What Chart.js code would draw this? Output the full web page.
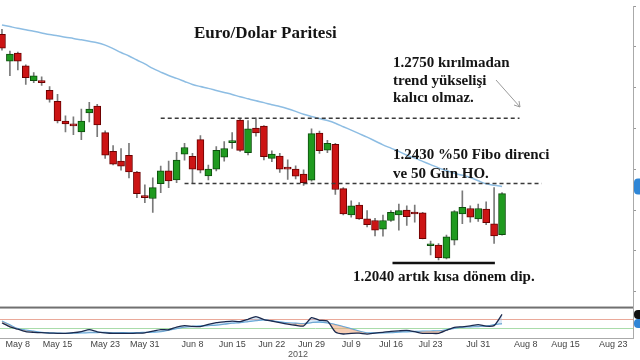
<!DOCTYPE html>
<html>
<head>
<meta charset="utf-8">
<script src="https://cdn.jsdelivr.net/npm/chart.js@4.4.0/dist/chart.umd.min.js"></script>
<style>
  html, body { margin: 0; padding: 0; background: #fff; overflow: hidden; }
  /* canvas is pushed 2px left so the first candle sits at the edge like the original */
  #wrap { position: absolute; left: -2px; top: 0; width: 702px; height: 360px; }
</style>
</head>
<body>
<div id="wrap"><canvas id="eurusd" width="702" height="360"></canvas></div>
<script>
// trading days on the axis (no bar on May 28 and Jul 4)
const months = ['May', 'Jun', 'Jul', 'Aug'];
const tradingDays = [
  [4, 7, 8, 9, 10, 11, 14, 15, 16, 17, 18, 21, 22, 23, 24, 25, 29, 30, 31],
  [1, 4, 5, 6, 7, 8, 11, 12, 13, 14, 15, 18, 19, 20, 21, 22, 25, 26, 27, 28, 29],
  [2, 3, 5, 6, 9, 10, 11, 12, 13, 16, 17, 18, 19, 20, 23, 24, 25, 26, 27, 30, 31],
  [1, 2, 3, 6, 7, 8, 9, 10, 13, 14, 15, 16, 17, 20, 21, 22, 23, 24, 27]
];
const shownTicks = ['May 8', 'May 15', 'May 23', 'May 31', 'Jun 8', 'Jun 15', 'Jun 22', 'Jun 29',
  'Jul 9', 'Jul 16', 'Jul 23', 'Jul 31', 'Aug 8', 'Aug 15', 'Aug 23'];

// daily EUR/USD candles, May 4 - Aug 3 2012
const opens = [1.3162, 1.3031, 1.3070, 1.3007, 1.2935, 1.2935, 1.2887, 1.2834, 1.2737, 1.2721,
  1.2684, 1.2776, 1.2810, 1.2680, 1.2588, 1.2540, 1.2569, 1.2487, 1.2371, 1.2357,
  1.2429, 1.2492, 1.2448, 1.2574, 1.2564, 1.2646, 1.2467, 1.2501, 1.2559, 1.2631,
  1.2742, 1.2582, 1.2702, 1.2712, 1.2554, 1.2565, 1.2508, 1.2501, 1.2477, 1.2447,
  1.2678, 1.2594, 1.2623, 1.2405, 1.2276, 1.2324, 1.2257, 1.2249, 1.2206, 1.2249,
  1.2276, 1.2300, 1.2289, 1.2286, 1.2125, 1.2129, 1.2064, 1.2153, 1.2281, 1.2308,
  1.2257, 1.2305, 1.2233, 1.2180];
const highs = [1.3186, 1.3080, 1.3075, 1.3012, 1.2974, 1.2954, 1.2906, 1.2868, 1.2762, 1.2757,
  1.2795, 1.2829, 1.2819, 1.2689, 1.2617, 1.2602, 1.2627, 1.2490, 1.2424, 1.2458,
  1.2516, 1.2540, 1.2583, 1.2627, 1.2578, 1.2665, 1.2521, 1.2612, 1.2636, 1.2680,
  1.2747, 1.2739, 1.2752, 1.2715, 1.2591, 1.2578, 1.2546, 1.2517, 1.2498, 1.2699,
  1.2688, 1.2642, 1.2627, 1.2410, 1.2346, 1.2337, 1.2297, 1.2260, 1.2276, 1.2297,
  1.2329, 1.2321, 1.2324, 1.2289, 1.2148, 1.2136, 1.2177, 1.2297, 1.2394, 1.2321,
  1.2329, 1.2341, 1.2410, 1.2386];
const lows = [1.3084, 1.2959, 1.2988, 1.2916, 1.2925, 1.2911, 1.2829, 1.2728, 1.2684, 1.2670,
  1.2646, 1.2733, 1.2660, 1.2554, 1.2521, 1.2496, 1.2458, 1.2361, 1.2337, 1.2289,
  1.2386, 1.2410, 1.2434, 1.2545, 1.2429, 1.2482, 1.2448, 1.2492, 1.2540, 1.2602,
  1.2588, 1.2570, 1.2662, 1.2546, 1.2538, 1.2485, 1.2450, 1.2453, 1.2421, 1.2442,
  1.2578, 1.2582, 1.2377, 1.2276, 1.2265, 1.2254, 1.2217, 1.2173, 1.2172, 1.2244,
  1.2201, 1.2225, 1.2241, 1.2158, 1.2080, 1.2056, 1.2061, 1.2129, 1.2233, 1.2241,
  1.2244, 1.2228, 1.2136, 1.2177];
const closes = [1.3094, 1.3065, 1.3031, 1.2949, 1.2959, 1.2925, 1.2843, 1.2737, 1.2723, 1.2713,
  1.2737, 1.2795, 1.2718, 1.2569, 1.2525, 1.2516, 1.2487, 1.2381, 1.2361, 1.2410,
  1.2492, 1.2443, 1.2545, 1.2607, 1.2501, 1.2496, 1.2501, 1.2593, 1.2602, 1.2636,
  1.2593, 1.2699, 1.2678, 1.2562, 1.2575, 1.2501, 1.2501, 1.2466, 1.2434, 1.2675,
  1.2591, 1.2627, 1.2401, 1.2281, 1.2321, 1.2257, 1.2228, 1.2201, 1.2249, 1.2289,
  1.2297, 1.2268, 1.2281, 1.2160, 1.2130, 1.2067, 1.2169, 1.2293, 1.2313, 1.2265,
  1.2308, 1.2238, 1.2173, 1.2381];

// 50 day moving average (blue line)
const ma50 = [1.3208, 1.3200, 1.3192, 1.3185, 1.3177, 1.3169, 1.3161, 1.3155, 1.3148, 1.3142,
  1.3135, 1.3128, 1.3121, 1.3109, 1.3092, 1.3073, 1.3056, 1.3036, 1.3017, 1.2995,
  1.2977, 1.2960, 1.2946, 1.2931, 1.2916, 1.2906, 1.2897, 1.2887, 1.2877, 1.2867,
  1.2856, 1.2846, 1.2836, 1.2827, 1.2817, 1.2808, 1.2797, 1.2784, 1.2770, 1.2759,
  1.2749, 1.2739, 1.2726, 1.2709, 1.2692, 1.2675, 1.2658, 1.2639, 1.2620, 1.2604,
  1.2588, 1.2569, 1.2555, 1.2539, 1.2523, 1.2507, 1.2494, 1.2480, 1.2471, 1.2460,
  1.2444, 1.2429, 1.2422, 1.2416];

// lower panel oscillator
const oscFast = [49.4, 36.5, 29.0, 21.0, 18.7, 17.4, 16.1, 15.5, 15.2, 17.4,
  21.3, 27.4, 20.3, 17.1, 15.2, 15.2, 15.2, 15.8, 16.8, 22.6,
  27.7, 27.1, 36.1, 40.6, 38.1, 37.4, 44.5, 50.3, 53.2, 55.5,
  53.6, 61.3, 70.3, 60.3, 55.8, 50.6, 45.8, 41.9, 39.4, 66.8,
  58.1, 55.8, 19.7, 13.2, 15.5, 15.8, 12.9, 16.1, 18.7, 21.6,
  23.5, 24.8, 20.6, 15.2, 15.2, 15.2, 25.5, 35.2, 36.8, 39.7,
  43.9, 38.7, 40.6, 77.4];
const oscSlow = [55.5, 42.9, 31.0, 25.8, 22.3, 18.7, 17.1, 16.1, 15.2, 15.8,
  16.8, 17.4, 18.1, 18.1, 17.7, 17.4, 17.1, 17.4, 18.4, 19.4,
  21.0, 25.8, 30.6, 35.5, 37.7, 39.4, 41.0, 42.6, 45.5, 48.7,
  50.6, 53.9, 57.1, 60.0, 56.1, 52.6, 49.4, 48.4, 47.4, 50.6,
  52.6, 50.0, 44.2, 37.7, 30.0, 22.6, 17.1, 17.1, 17.1, 17.7,
  19.4, 20.6, 21.3, 22.3, 22.9, 23.5, 27.1, 31.9, 35.8, 36.8,
  37.7, 38.7, 43.6, 47.4];
const oscLevels = [64, 33];

// price levels marked on the chart
const resistanceLevels = [1.2750, 1.2430];
const dipLevel = 1.2040;

const days = tradingDays.flatMap((list, m) => list.map(d => months[m] + ' ' + d));
const bodies = opens.map((o, i) => [o, closes[i]]);
const wicks = lows.map((l, i) => [l, highs[i]]);
const isUp = opens.map((o, i) => closes[i] >= o);

// annotation layout (page pixels / category index spans)
const SHIFT = 2;
const guideSpans = [[20, 65.2], [23, 68]];
const dipSpan = [49.2, 62.1];
const notes = [
  { lines: ['Euro/Dolar Paritesi'], x: 194, y: 38, size: 17 },
  { lines: ['1.2750 kırılmadan', 'trend yükselişi', 'kalıcı olmaz.'], x: 393, y: 67, size: 15, lh: 17.5 },
  { lines: ['1.2430 %50 Fibo direnci', 've 50 Gün HO.'], x: 393, y: 159, size: 15, lh: 19 },
  { lines: ['1.2040 artık kısa dönem dip.'], x: 353, y: 281, size: 15 }
];

Chart.defaults.font.family = '"Liberation Sans", Arial, sans-serif';

const tag = (ctx, x, yc, h, color, text) => {
  ctx.fillStyle = color;
  ctx.beginPath();
  ctx.roundRect(x, yc - h / 2, 58, h, 4);
  ctx.fill();
  ctx.fillStyle = '#fff';
  ctx.font = '10px "Liberation Sans"';
  ctx.textAlign = 'left';
  ctx.textBaseline = 'middle';
  ctx.fillText(text, x + 8, yc);
};

const overlay = {
  id: 'overlay',
  beforeDatasetsDraw(chart) {
    const { ctx, chartArea, scales: { y2 } } = chart;
    ctx.save();
    const levelColors = ['#eaa99a', '#a9dca9'];
    oscLevels.forEach((lv, k) => {
      const py = Math.round(y2.getPixelForValue(lv)) + 0.5;
      ctx.strokeStyle = levelColors[k];
      ctx.lineWidth = 1;
      ctx.beginPath();
      ctx.moveTo(chartArea.left, py);
      ctx.lineTo(chartArea.right, py);
      ctx.stroke();
    });
    ctx.restore();
  },
  afterDatasetsDraw(chart) {
    const { ctx, chartArea, scales: { x, y, y2 } } = chart;
    ctx.save();

    // separator between price and oscillator panels
    ctx.fillStyle = '#707070';
    ctx.fillRect(chartArea.left, y2.top - 1, chartArea.right - chartArea.left, 2);

    // dashed resistance lines
    ctx.setLineDash([4, 3]);
    ctx.strokeStyle = '#3a3a3a';
    ctx.lineWidth = 1.5;
    resistanceLevels.forEach((lv, k) => {
      const py = y.getPixelForValue(lv);
      ctx.beginPath();
      ctx.moveTo(x.getPixelForValue(guideSpans[k][0]), py);
      ctx.lineTo(x.getPixelForValue(guideSpans[k][1]), py);
      ctx.stroke();
    });
    ctx.setLineDash([]);

    // short-term bottom
    const dy = y.getPixelForValue(dipLevel);
    ctx.strokeStyle = '#111';
    ctx.lineWidth = 2.5;
    ctx.beginPath();
    ctx.moveTo(x.getPixelForValue(dipSpan[0]), dy);
    ctx.lineTo(x.getPixelForValue(dipSpan[1]), dy);
    ctx.stroke();

    // little arrow under the first note
    ctx.strokeStyle = '#9a9a9a';
    ctx.lineWidth = 1;
    ctx.beginPath();
    ctx.moveTo(496 + SHIFT, 80);
    ctx.lineTo(520 + SHIFT, 107);
    ctx.moveTo(520 + SHIFT, 107);
    ctx.lineTo(514 + SHIFT, 105);
    ctx.moveTo(520 + SHIFT, 107);
    ctx.lineTo(519 + SHIFT, 101);
    ctx.stroke();

    // notes
    ctx.fillStyle = '#141414';
    ctx.textAlign = 'left';
    ctx.textBaseline = 'alphabetic';
    notes.forEach(n => {
      ctx.font = 'bold ' + n.size + 'px "Liberation Serif", serif';
      n.lines.forEach((t, k) => ctx.fillText(t, n.x + SHIFT, n.y + k * (n.lh || 0)));
    });

    // year under the date axis
    ctx.fillStyle = '#555';
    ctx.font = '9px "Liberation Sans"';
    ctx.textAlign = 'center';
    ctx.textBaseline = 'middle';
    ctx.fillText('2012', x.getPixelForValue(37.3), 355);

    // last value tags on the right edge
    const last = ma50.length - 1;
    tag(ctx, chartArea.right + 1, y.getPixelForValue(ma50[last]), 16, '#2f86d6', ma50[last].toFixed(4));
    tag(ctx, chartArea.right + 1, y2.getPixelForValue(oscSlow[last]), 9, '#2f86d6', '');
    tag(ctx, chartArea.right + 1, y2.getPixelForValue(oscFast[last]), 9, '#111', '');
    ctx.restore();
  }
};

new Chart(document.getElementById('eurusd'), {
  data: {
    labels: days,
    datasets: [
      {
        type: 'line', label: '50 Gün HO', data: ma50, yAxisID: 'y',
        borderColor: '#8dbde3', borderWidth: 1.5, pointRadius: 0, tension: 0.3, order: 0
      },
      {
        type: 'bar', label: 'body', data: bodies, yAxisID: 'y',
        backgroundColor: isUp.map(u => u ? '#1f9a1f' : '#cc1414'),
        borderColor: isUp.map(u => u ? '#0d4d0d' : '#6a0000'),
        borderWidth: 1, borderSkipped: false, barThickness: 7, minBarLength: 2,
        grouped: false, order: 1
      },
      {
        type: 'bar', label: 'wick', data: wicks, yAxisID: 'y',
        backgroundColor: '#7a7a7a', barThickness: 1, grouped: false, order: 2
      },
      {
        type: 'line', label: 'osc', data: oscFast, yAxisID: 'y2',
        borderColor: '#1b2a4e', borderWidth: 1.3, pointRadius: 0, tension: 0.2,
        fill: { target: 4, above: 'rgba(150,190,228,0.35)', below: 'rgba(240,165,120,0.55)' },
        order: 0
      },
      {
        type: 'line', label: 'signal', data: oscSlow, yAxisID: 'y2',
        borderColor: '#5aa6dd', borderWidth: 1.3, pointRadius: 0, tension: 0.3, order: 0
      }
    ]
  },
  options: {
    responsive: false,
    animation: false,
    layout: { padding: 0 },
    plugins: { legend: { display: false }, tooltip: { enabled: false } },
    scales: {
      x: {
        type: 'category', offset: true,
        grid: { display: true, drawOnChartArea: false, drawTicks: false },
        border: { display: true, color: '#aaa', dash: [2, 2] },
        ticks: {
          autoSkip: false, maxRotation: 0, padding: 1,
          font: { size: 9 }, color: '#444',
          callback: (v, i) => shownTicks.includes(days[i]) ? days[i] : ''
        },
        afterFit: s => { s.height = 22; }
      },
      y: {
        position: 'right', stack: 'panels', stackWeight: 307,
        min: 1.1822, max: 1.3301,
        grid: { drawOnChartArea: false, drawTicks: true, tickLength: 3, color: '#999' },
        border: { color: '#aaa' },
        ticks: {
          stepSize: 0.01, includeBounds: false, padding: 0,
          font: { size: 10 }, color: '#333',
          callback: v => Math.round(v * 100) % 2 === 0 ? v.toFixed(4) : ''
        },
        afterFit: s => { s.width = 67; }
      },
      y2: {
        position: 'right', stack: 'panels', stackWeight: 31,
        min: 0, max: 100,
        grid: { drawOnChartArea: false, drawTicks: false },
        border: { color: '#aaa' },
        ticks: { display: false },
        afterFit: s => { s.width = 67; }
      }
    }
  },
  plugins: [overlay]
});
</script>
</body>
</html>
